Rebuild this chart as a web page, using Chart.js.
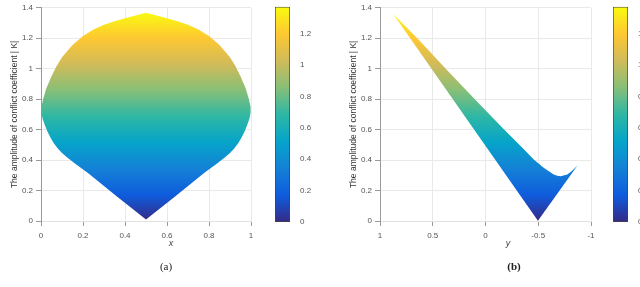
<!DOCTYPE html>
<html>
<head>
<meta charset="utf-8">
<script src="https://cdn.jsdelivr.net/npm/chart.js@4/dist/chart.umd.min.js"></script>
<style>
  body { margin: 0; width: 640px; height: 287px; overflow: hidden; background: #fff; position: relative; }
  canvas { position: absolute; top: 0; }
  .lbl { position: absolute; transform: translate(-50%, -50%); white-space: nowrap; }
  .axis { font: italic 9px "Liberation Sans", Arial, sans-serif; color: #444; }
  .cap { font: 11px "Liberation Serif", "Times New Roman", serif; color: #222; }
</style>
</head>
<body>
<canvas id="plotA" width="260" height="250" style="left:0px"></canvas>
<canvas id="barA" width="50" height="230" style="left:270px"></canvas>
<canvas id="plotB" width="261" height="250" style="left:339px"></canvas>
<canvas id="barB" width="50" height="230" style="left:608px"></canvas>
<div class="lbl axis" style="left:171px; top:243px">x</div>
<div class="lbl axis" style="left:508px; top:243px">y</div>
<div class="lbl cap" style="left:166px; top:266px">(a)</div>
<div class="lbl cap" style="left:514px; top:266px; font-weight:bold">(b)</div>
<script>
// panel (a): outline of the region, from the bottom tip up the left side and down the right
const xA = [0.50, 0.36, 0.225, 0.16, 0.122, 0.10, 0.08, 0.06, 0.045, 0.03, 0.018, 0.008, 0.002,
            0.002, 0.01, 0.025, 0.05, 0.075, 0.10, 0.15, 0.20, 0.25, 0.30, 0.35, 0.40, 0.45, 0.50,
            0.55, 0.60, 0.65, 0.70, 0.75, 0.80, 0.85, 0.90, 0.925, 0.95, 0.975, 0.99, 0.998,
            0.998, 0.992, 0.982, 0.97, 0.955, 0.94, 0.92, 0.90, 0.878, 0.84, 0.775, 0.64, 0.50];
const kA = [0.01, 0.163, 0.314, 0.38, 0.42, 0.447, 0.476, 0.512, 0.548, 0.59, 0.63, 0.67, 0.71,
            0.75, 0.80, 0.87, 0.95, 1.02, 1.075, 1.155, 1.215, 1.258, 1.288, 1.312, 1.332, 1.35, 1.368,
            1.35, 1.332, 1.312, 1.288, 1.258, 1.215, 1.155, 1.075, 1.02, 0.95, 0.87, 0.80, 0.75,
            0.71, 0.67, 0.63, 0.59, 0.548, 0.512, 0.476, 0.447, 0.42, 0.38, 0.314, 0.163, 0.01];

// panel (b): outline, from the top tip along the upper edge, then back along the V
const yB = [0.875, 0.767, 0.633, 0.359, 0.065, -0.179, -0.359, -0.455, -0.551, -0.647, -0.68, -0.712, -0.776, -0.824, -0.872, -0.497, 0.875];
const kB = [1.36, 1.284, 1.19, 0.986, 0.773, 0.599, 0.475, 0.405, 0.35, 0.305, 0.297, 0.294, 0.305, 0.332, 0.364, 0.002, 1.36];

const kTicks = [0, 0.2, 0.4, 0.6, 0.8, 1, 1.2, 1.4];
const colorMax = 1.372;

// parula colormap stops
const parula = ["#352a87", "#0f5cdd", "#1481d6", "#06a4ca", "#2eb7a4", "#87bf77", "#d1bb59", "#fec832", "#f9fb0e"];

const fontTick = { family: "'Liberation Sans', Arial, sans-serif", size: 8 };
const fmt = v => String(+Number(v).toFixed(2));

function makeGradient(chart) {
    const { ctx, chartArea, scales } = chart;
    if (!chartArea) return null;
    const y = scales.y;
    const g = ctx.createLinearGradient(0, y.getPixelForValue(0), 0, y.getPixelForValue(colorMax));
    parula.forEach((c, i) => g.addColorStop(i / (parula.length - 1), c));
    return g;
}

function plotConfig(points, xOpts) {
    return {
        type: "scatter",
        data: {
            datasets: [{
                data: points,
                showLine: true,
                fill: "shape",
                tension: 0,
                pointRadius: 0,
                borderWidth: 0,
                borderColor: "rgba(0,0,0,0)",
                backgroundColor: ctx => makeGradient(ctx.chart)
            }]
        },
        options: {
            responsive: false,
            animation: false,
            devicePixelRatio: 1,
            layout: { padding: { top: 3, right: 9, left: 0, bottom: 0 } },
            plugins: { legend: { display: false }, tooltip: { enabled: false } },
            scales: {
                x: Object.assign({
                    type: "linear",
                    grid: { color: "#e9e9e9", tickColor: "#999", tickLength: 5 },
                    border: { color: "#e2e2e2" },
                    afterFit: s => { s.height = 29; }
                }, xOpts),
                y: {
                    type: "linear",
                    min: kTicks[0],
                    max: kTicks[kTicks.length - 1],
                    grid: { color: "#e9e9e9", tickColor: "#999", tickLength: 5 },
                    border: { color: "#999" },
                    ticks: { font: fontTick, color: "#555", padding: 3, stepSize: 0.2, callback: fmt },
                    title: {
                        display: true,
                        text: "The amplitude of conflict coefficient | K|",
                        color: "#333",
                        font: { family: "'Liberation Sans', Arial, sans-serif", size: 8.5 },
                        padding: { top: 10, bottom: 0 }
                    },
                    afterFit: s => { s.width = 41; }
                }
            }
        }
    };
}

function colorbarConfig() {
    return {
        type: "bar",
        data: {
            labels: [""],
            datasets: [{
                data: [[0, colorMax]],
                backgroundColor: ctx => makeGradient(ctx.chart),
                borderColor: "#444",
                borderWidth: 1,
                borderSkipped: false,
                barPercentage: 1,
                categoryPercentage: 1
            }]
        },
        options: {
            responsive: false,
            animation: false,
            devicePixelRatio: 1,
            layout: { padding: { left: 5, top: 3, bottom: 8, right: 0 } },
            plugins: { legend: { display: false }, tooltip: { enabled: false } },
            scales: {
                x: { display: false },
                y: {
                    position: "right",
                    min: 0,
                    max: colorMax,
                    grid: { display: false },
                    border: { display: false },
                    ticks: { font: fontTick, color: "#555", padding: 2, stepSize: 0.2, includeBounds: false, callback: fmt },
                    afterFit: s => { s.width = 30; }
                }
            }
        }
    };
}

const pointsA = xA.map((x, i) => ({ x: x, y: kA[i] }));
const pointsB = yB.map((y, i) => ({ x: y, y: kB[i] }));

new Chart(document.getElementById("plotA"), plotConfig(pointsA, {
    min: 0, max: 1, ticks: { font: fontTick, color: "#555", padding: 5, stepSize: 0.2, callback: fmt }
}));
new Chart(document.getElementById("plotB"), plotConfig(pointsB, {
    min: -1, max: 1, reverse: true, ticks: { font: fontTick, color: "#555", padding: 5, stepSize: 0.5, callback: fmt }
}));
new Chart(document.getElementById("barA"), colorbarConfig());
new Chart(document.getElementById("barB"), colorbarConfig());
</script>
</body>
</html>
